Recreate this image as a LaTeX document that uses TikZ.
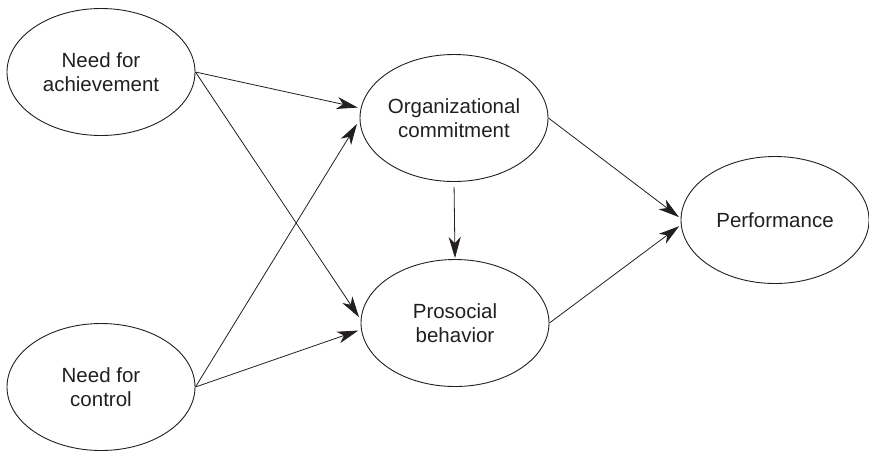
\documentclass[tikz,border=0pt]{standalone}
\usepackage{fontspec}
\setmainfont{Liberation Sans}
\usetikzlibrary{shapes.geometric,arrows.meta}
\definecolor{ink}{HTML}{231F20}
\begin{document}
\begin{tikzpicture}[x=1pt,y=-1pt,
  construct/.style={ellipse,draw=ink,line width=0.9pt,minimum width=188pt,minimum height=127pt,
    inner sep=0pt,align=center,text=ink,font=\fontsize{20.5}{24}\selectfont},
  path/.style={draw=ink,line width=0.8pt,-{Stealth[length=21pt,width=12pt,inset=6pt]}}]
\useasboundingbox (0,0) rectangle (869,451);
% constructs
\node[construct] (nach) at (101,72)  {Need for\\achievement};
\node[construct] (ncon) at (101,387) {Need for\\control};
\node[construct] (oc)   at (454,118) {Organizational\\commitment};
\node[construct] (pb)   at (455,323) {Prosocial\\behavior};
\node[construct] (perf) at (775,220) {Performance};
% paths
\draw[path,shorten >=3pt] (nach.east) -- (oc.174);
\draw[path,shorten >=5pt] (ncon.east) -- (oc.181);
\draw[path,shorten >=3pt] (nach.east) -- (pb.178);
\draw[path,shorten >=3pt] (ncon.east) -- (pb.184);
\draw[path,shorten <=5pt,shorten >=1pt] (oc.south) -- (pb.north);
\draw[path,shorten >=2pt] (oc.east) -- (perf.179);
\draw[path,shorten >=2pt] (pb.east) -- (perf.183);
\end{tikzpicture}
\end{document}
